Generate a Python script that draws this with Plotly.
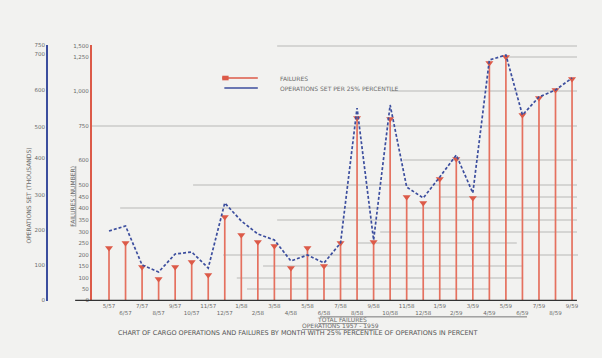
import plotly.graph_objects as go

# ---------------- data ----------------
periods = ["5/57", "6/57", "7/57", "8/57", "9/57", "10/57", "11/57", "12/57",
           "1/58", "2/58", "3/58", "4/58", "5/58", "6/58", "7/58", "8/58",
           "9/58", "10/58", "11/58", "12/58", "1/59", "2/59", "3/59", "4/59",
           "5/59", "6/59", "7/59", "8/59", "9/59"]
failures = [52, 57, 33, 21, 33, 38, 25, 83, 65, 58, 54, 32, 52, 34, 57, 182,
            58, 181, 103, 97, 121, 141, 102, 237, 243, 185, 202, 210, 221]
operations = [69, 74, 35, 28, 46, 48, 32, 97, 79, 66, 60, 39, 45, 37, 57, 192,
              60, 195, 113, 102, 123, 145, 107, 240, 245, 185, 203, 210, 222]

red_tick_vals = [0, 11, 22, 34, 45, 57, 68, 80, 92, 103, 115, 140, 174, 209, 243, 254]
red_tick_text = ["0", "50", "100", "150", "200", "250", "300", "350", "400", "450",
                 "500", "600", "750", "1,000", "1,250", "1,500"]
blue_tick_vals = [0, 35, 70, 105, 142, 173, 210, 246, 255]
blue_tick_text = ["0", "100", "200", "300", "400", "500", "600", "700", "750"]

# ---------------- styling ----------------
RED = "#dc5a48"
RED_STEM = "#e5715f"
BLUE = "#3c4e9e"
TXT = "#6a6a6a"
BG = "#f2f2f0"
FONT = "DejaVu Sans"

idx = list(range(len(periods)))
ticktext = [p if i % 2 == 0 else "<br>" + p for i, p in enumerate(periods)]

fig = go.Figure()
fig.add_trace(go.Scatter(
    x=idx, y=failures, mode="markers", name="FAILURES",
    marker=dict(symbol="triangle-down", size=7, color=RED),
    error_y=dict(type="data", symmetric=False, array=[0] * len(failures),
                 arrayminus=failures, width=0, thickness=1.7, color=RED_STEM),
    showlegend=False, yaxis="y"))
fig.add_trace(go.Scatter(
    x=idx, y=operations, mode="lines", name="OPERATIONS",
    line=dict(color=BLUE, width=1.7, dash="3px,2px"),
    showlegend=False, yaxis="y2"))

# partial horizontal guide lines (x extents as fraction of plot width)
guide_extents = [(0.381, 0.998), (0.854, 0.998), (0.613, 0.998), (0.0, 0.998),
                 (0.64, 0.998), (0.208, 0.998), (0.716, 0.998), (0.058, 0.998),
                 (0.381, 0.998), (0.593, 0.998), (0.545, 0.874), (0.27, 1.0),
                 (0.352, 0.887), (0.298, 0.887), (0.319, 0.819)]
guide_levels = red_tick_vals[::-1][:len(guide_extents)]
shapes = []
for lvl, (a, b) in zip(guide_levels, guide_extents):
    shapes.append(dict(type="line", xref="x domain", yref="y", x0=a, x1=b,
                       y0=lvl, y1=lvl, line=dict(color="#8a8a8a", width=1.2),
                       opacity=0.55, layer="below"))
# base line
shapes.append(dict(type="line", xref="paper", yref="y", x0=0.053, x1=0.998,
                   y0=-0.5, y1=-0.5, line=dict(color="#333333", width=1.5)))
# legend samples
shapes.append(dict(type="line", xref="paper", yref="paper", x0=0.330, x1=0.397,
                   y0=0.871, y1=0.871, line=dict(color=RED, width=1.6)))
shapes.append(dict(type="rect", xref="paper", yref="paper", x0=0.330, x1=0.342,
                   y0=0.862, y1=0.880, line=dict(width=0), fillcolor=RED))
shapes.append(dict(type="line", xref="paper", yref="paper", x0=0.334, x1=0.397,
                   y0=0.832, y1=0.832, line=dict(color=BLUE, width=1.6)))
# rule under tick labels
shapes.append(dict(type="line", xref="paper", yref="paper", x0=0.514, x1=0.904,
                   y0=-0.062, y1=-0.062, line=dict(color="#777777", width=1)))

annotations = [
    dict(text="FAILURES", x=0.435, y=0.871, xref="paper", yref="paper",
         xanchor="left", yanchor="middle", showarrow=False,
         font=dict(size=6, color=TXT, family=FONT)),
    dict(text="OPERATIONS SET PER 25% PERCENTILE", x=0.435, y=0.832,
         xref="paper", yref="paper", xanchor="left", yanchor="middle",
         showarrow=False, font=dict(size=6, color=TXT, family=FONT)),
    dict(text="OPERATIONS SET (THOUSANDS)", x=-0.047, y=0.41, xref="paper",
         yref="paper", textangle=-90, showarrow=False,
         font=dict(size=6, color=TXT, family=FONT)),
    dict(text="<u>FAILURES (NUMBER)</u>", x=0.036, y=0.41, xref="paper",
         yref="paper", textangle=-90, showarrow=False,
         font=dict(size=6, color=TXT, family=FONT)),
    dict(text="<u>TOTAL FAILURES</u>", x=0.556, y=-0.093, xref="paper",
         yref="paper", showarrow=False, font=dict(size=6, color=TXT, family=FONT)),
    dict(text="<u>OPERATIONS 1957 - 1959</u>", x=0.552, y=-0.119, xref="paper",
         yref="paper", showarrow=False, font=dict(size=6, color=TXT, family=FONT)),
    dict(text="CHART OF CARGO OPERATIONS AND FAILURES BY MONTH WITH 25% PERCENTILE OF OPERATIONS IN PERCENT",
         x=0.471, y=-0.150, xref="paper", yref="paper", showarrow=False,
         font=dict(size=6.5, color="#555555", family=FONT)),
]

# the page body has an 8px default margin: size figure so the plot lands in place
fig.update_layout(
    width=586, height=342, autosize=False,
    margin=dict(l=39, r=16, t=37, b=49, autoexpand=False),
    paper_bgcolor=BG, plot_bgcolor=BG,
    font=dict(family=FONT, size=6, color=TXT),
    xaxis=dict(domain=[0.0847, 1], range=[-1.03, 28.36], tickvals=idx,
               ticktext=ticktext, tickangle=0, automargin=False,
               showgrid=False, zeroline=False, showline=False,
               ticks="", tickfont=dict(size=5.5, color=TXT)),
    yaxis=dict(range=[-1, 255], tickvals=red_tick_vals, ticktext=red_tick_text,
               automargin=False,
               showgrid=False, zeroline=False, showline=True, linecolor=RED,
               linewidth=2, ticks="", tickfont=dict(size=5.5, color=TXT)),
    yaxis2=dict(range=[-1, 255], overlaying="y", anchor="free", position=0,
                side="left", tickvals=blue_tick_vals, ticktext=blue_tick_text,
                automargin=False,
                showgrid=False, zeroline=False, showline=True, linecolor=BLUE,
                linewidth=2, ticks="", tickfont=dict(size=5.5, color=TXT)),
    shapes=shapes, annotations=annotations, showlegend=False,
)

fig.write_html("out.html", post_script="document.body.style.background='#f2f2f0';")
